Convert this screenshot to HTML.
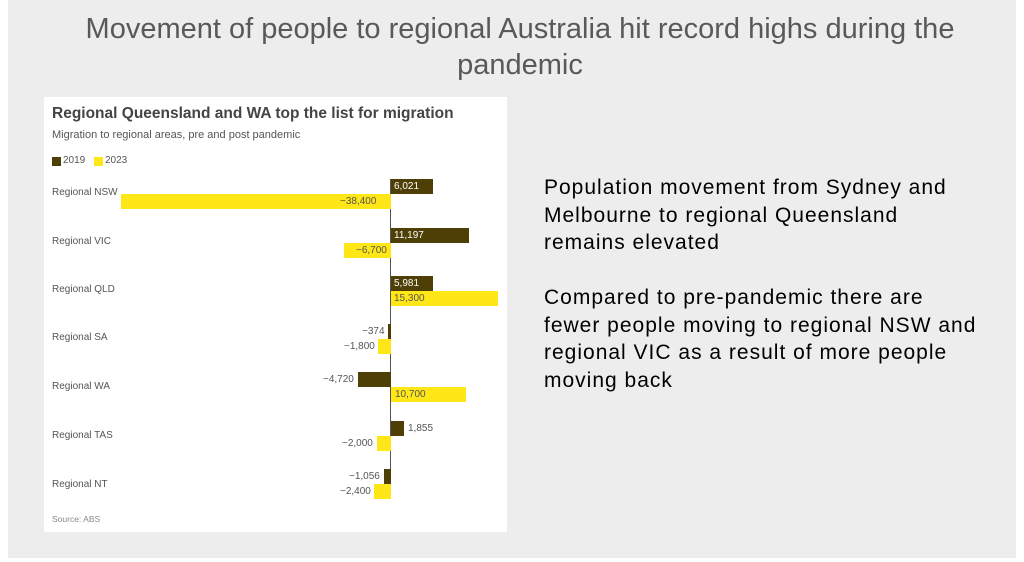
<!DOCTYPE html>
<html><head><meta charset="utf-8"><style>
body{margin:0;width:1024px;height:562px;background:#fff;font-family:"Liberation Sans",sans-serif;position:relative;overflow:hidden}
#bg{position:absolute;left:8px;top:0;width:1008px;height:558px;background:#ededed}
.t{position:absolute;white-space:nowrap}
.b{position:absolute;height:15px}
.d{background:#4d3f05}.y{background:#ffe617}
.l{position:absolute;font-size:10px;white-space:nowrap;line-height:15px}
</style></head><body>
<div id="bg"></div>
<div class="t" style="left:8px;width:1024px;top:11px;text-align:center;font-size:29px;color:#595959;line-height:36px;white-space:normal">Movement of people to regional Australia hit record highs during the<br>pandemic</div>
<div style="position:absolute;left:44px;top:97px;width:463px;height:435px;background:#fff"></div>
<div class="t" style="left:52px;top:105px;font-size:15.5px;font-weight:bold;color:#444">Regional Queensland and WA top the list for migration</div>
<div class="t" style="left:52px;top:129px;font-size:11px;color:#555">Migration to regional areas, pre and post pandemic</div>
<div style="position:absolute;left:52px;top:157px;width:9px;height:9px;background:#4d3f05"></div>
<div class="t" style="left:63px;top:155px;font-size:10px;color:#555">2019</div>
<div style="position:absolute;left:94px;top:157px;width:9px;height:9px;background:#ffe617"></div>
<div class="t" style="left:105px;top:155px;font-size:10px;color:#555">2023</div>
<div style="position:absolute;left:390px;top:179px;width:1px;height:320px;background:#555"></div>
<div class="t" style="left:52px;top:187px;font-size:10px;color:#555">Regional NSW</div>
<div class="t" style="left:52px;top:236px;font-size:10px;color:#555">Regional VIC</div>
<div class="t" style="left:52px;top:284px;font-size:10px;color:#555">Regional QLD</div>
<div class="t" style="left:52px;top:332px;font-size:10px;color:#555">Regional SA</div>
<div class="t" style="left:52px;top:381px;font-size:10px;color:#555">Regional WA</div>
<div class="t" style="left:52px;top:430px;font-size:10px;color:#555">Regional TAS</div>
<div class="t" style="left:52px;top:479px;font-size:10px;color:#555">Regional NT</div>
<div class="b d" style="left:391px;top:179px;width:42px"></div><div class="l" style="left:394px;top:179px;color:#fff">6,021</div>
<div class="b y" style="left:121px;top:194px;width:270px"></div><div class="l" style="left:340px;top:194px;color:#555">−38,400</div>
<div class="b d" style="left:391px;top:228px;width:78px"></div><div class="l" style="left:394px;top:228px;color:#fff">11,197</div>
<div class="b y" style="left:344px;top:243px;width:47px"></div><div class="l" style="left:356px;top:243px;color:#555">−6,700</div>
<div class="b d" style="left:391px;top:276px;width:42px"></div><div class="l" style="left:394px;top:276px;color:#fff">5,981</div>
<div class="b y" style="left:391px;top:291px;width:107px"></div><div class="l" style="left:394px;top:291px;color:#555">15,300</div>
<div class="b d" style="left:388px;top:324px;width:3px"></div><div class="l" style="left:362px;top:324px;color:#555">−374</div>
<div class="b y" style="left:378px;top:339px;width:13px"></div><div class="l" style="left:344px;top:339px;color:#555">−1,800</div>
<div class="b d" style="left:358px;top:372px;width:33px"></div><div class="l" style="left:323px;top:372px;color:#555">−4,720</div>
<div class="b y" style="left:391px;top:387px;width:75px"></div><div class="l" style="left:395px;top:387px;color:#555">10,700</div>
<div class="b d" style="left:391px;top:421px;width:13px"></div><div class="l" style="left:408px;top:421px;color:#555">1,855</div>
<div class="b y" style="left:377px;top:436px;width:14px"></div><div class="l" style="left:342px;top:436px;color:#555">−2,000</div>
<div class="b d" style="left:384px;top:469px;width:7px"></div><div class="l" style="left:349px;top:469px;color:#555">−1,056</div>
<div class="b y" style="left:374px;top:484px;width:17px"></div><div class="l" style="left:340px;top:484px;color:#555">−2,400</div>
<div class="t" style="left:52px;top:514px;font-size:8.5px;color:#888">Source: ABS</div>
<div class="t" style="left:544px;top:174px;font-size:21px;letter-spacing:1px;line-height:27.5px;color:#000;white-space:normal;width:478px">Population movement from Sydney and<br>Melbourne to regional Queensland<br>remains elevated<br><br>Compared to pre-pandemic there are<br>fewer people moving to regional NSW and<br>regional VIC as a result of more people<br>moving back</div>
</body></html>
